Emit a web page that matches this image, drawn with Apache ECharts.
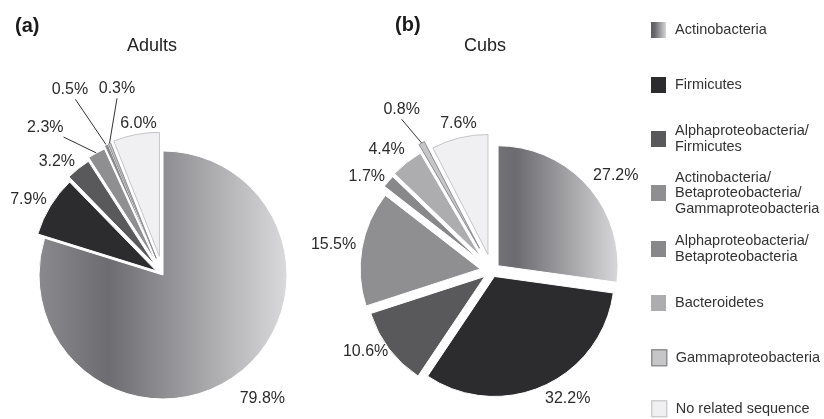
<!DOCTYPE html>
<html>
<head>
<meta charset="utf-8">
<script src="https://cdn.jsdelivr.net/npm/echarts@6/dist/echarts.min.js"></script>
<style>
  html, body { margin: 0; padding: 0; background: #fff; }
  #chart { width: 824px; height: 419px; }
</style>
</head>
<body>
<div id="chart"></div>
<script>
// Phylum groups, in legend order (clockwise from 12 o'clock in each pie)
const categories = [
  'Actinobacteria',
  'Firmicutes',
  'Alphaproteobacteria/\nFirmicutes',
  'Actinobacteria/\nBetaproteobacteria/\nGammaproteobacteria',
  'Alphaproteobacteria/\nBetaproteobacteria',
  'Bacteroidetes',
  'Gammaproteobacteria',
  'No related sequence'
];
// Share of clones (%)
const adultsValues = [79.8, 7.9, 3.2, 2.3, 0.5, 0, 0.3, 6.0];
const cubsValues = [27.2, 32.2, 10.6, 15.5, 1.7, 4.4, 0.8, 7.6];
const panelTitles = ['Adults', 'Cubs'];
const panelTags = ['(a)', '(b)'];

// ---- styling -------------------------------------------------------------
const FONT = "'Liberation Sans', Arial, Helvetica, sans-serif";
const fills = [null, '#2c2b2d', '#59595c', '#8f8f92', '#88888b', '#adadb0', '#c6c6c8', '#f0f0f2'];
const borders = ['#ffffff', '#ffffff', '#ffffff', '#ffffff', '#ffffff', '#ffffff', '#8e8e90', '#c6c6c8'];

function grad(stops) {
  return new echarts.graphic.LinearGradient(0, 0, 1, 0,
    stops.map(s => ({ offset: s[0], color: s[1] })));
}

// how far each slice is pulled out of its pie (px)
const adultsExplode = [0, 8, 12, 15, 18, 0, 18, 19];
const cubsExplode = [8, 6, 9, 12, 17, 18, 26, 17];
// label line [length, length2] used to place each value label
const adultsLabelPos = [[29, -14], [11.5, -6], [9, -2.4], [29, 19], [60, -6], [0, 0], [59, -48], [11.4, -22.6]];
const cubsLabelPos = [[18, -9], [13.5, -4], [5, -3.2], [19, -13], [7, -2], [16, -8], [38, -16.5], [15, -20.6]];
// slices whose label is tied back with a leader line: where it meets the label (0..1 along its bottom)
const adultsLeaders = { 3: 1.0, 4: 0.65, 6: 0.5 };
const cubsLeaders = { 6: 0.5 };

const pies = [
  {
    values: adultsValues, explode: adultsExplode, labelPos: adultsLabelPos, leaders: adultsLeaders,
    center: [163, 275], radius: 124,
    first: grad([[0, '#8a8a8e'], [0.28, '#6c6c71'], [1, '#dadadc']])
  },
  {
    values: cubsValues, explode: cubsExplode, labelPos: cubsLabelPos, leaders: cubsLeaders,
    center: [492, 271], radius: 120,
    first: grad([[0, '#727276'], [0.15, '#6b6b70'], [1, '#d8d8da']])
  }
];

const hidden = { color: 'rgba(0,0,0,0)', borderWidth: 0 };

// One pie series per slice, so every slice can sit at its own offset.
const series = [];
pies.forEach(pie => {
  const total = pie.values.reduce((a, b) => a + b, 0);
  let acc = 0;
  pie.values.forEach((v, k) => {
    const a0 = acc / total * 2 * Math.PI;
    acc += v;
    const a1 = acc / total * 2 * Math.PI;
    if (!v) return;
    const mid = (a0 + a1) / 2;
    const off = pie.explode[k];
    const center = [pie.center[0] + off * Math.sin(mid), pie.center[1] - off * Math.cos(mid)];
    const leaderAt = pie.leaders[k];
    series.push({
      type: 'pie',
      center: center,
      radius: pie.radius,
      startAngle: 90,
      clockwise: true,
      avoidLabelOverlap: false,
      animation: false,
      silent: true,
      emphasis: { disabled: true },
      label: { show: false },
      labelLine: { show: false },
      labelLayout: leaderAt == null ? null : function (params) {
        const pts = params.labelLinePoints;
        if (!pts) return {};
        const r = params.labelRect;
        const end = [r.x + r.width * leaderAt, r.y + r.height + 1.5];
        return { labelLinePoints: [pts[0], end, end] };
      },
      data: pie.values.map((val, i) => {
        if (i !== k) {
          return { name: categories[i], value: val, itemStyle: hidden, label: { show: false }, labelLine: { show: false } };
        }
        return {
          name: categories[i],
          value: val,
          itemStyle: {
            color: i === 0 ? pie.first : fills[i],
            borderColor: borders[i],
            borderWidth: 1
          },
          label: {
            show: true,
            position: 'outside',
            formatter: p => p.value.toFixed(1) + '%',
            color: '#2b2b2b',
            fontSize: 16,
            fontFamily: FONT,
            distanceToLabelLine: 0
          },
          labelLine: {
            show: leaderAt != null,
            length: pie.labelPos[i][0],
            length2: pie.labelPos[i][1],
            lineStyle: { color: '#333', width: 1 }
          }
        };
      })
    });
  });
});

// Legend: one block per group, stacked at an even pitch
const legendCenters = [30, 85, 139, 193, 249, 303, 357, 408];
const LH = 15.5;
const legendIcons = [
  { color: grad([[0, '#5c5c60'], [0.25, '#69696d'], [1, '#d6d6d8']]), borderWidth: 0 },
  { color: fills[1], borderWidth: 0 },
  { color: fills[2], borderWidth: 0 },
  { color: fills[3], borderWidth: 0 },
  { color: fills[4], borderWidth: 0 },
  { color: fills[5], borderWidth: 0 },
  { color: fills[6], borderColor: '#909092', borderWidth: 1.5 },
  { color: fills[7], borderColor: '#cfcfd1', borderWidth: 1.5 }
];
const legend = categories.map((name, i) => {
  const lines = name.split('\n').length;
  return {
    orient: 'vertical',
    left: 651,
    top: legendCenters[i] - Math.max(8, lines * LH / 2),
    padding: 0,
    itemWidth: 15,
    itemHeight: 16,
    icon: 'rect',
    selectedMode: false,
    textStyle: { fontSize: 14.5, fontFamily: FONT, color: '#333', lineHeight: LH, padding: [0, 0, 0, 4] },
    data: [{ name: name, itemStyle: legendIcons[i] }]
  };
});

const graphic = [
  { type: 'text', x: 15, y: 26.5, style: { text: panelTags[0], font: 'bold 20px ' + FONT, fill: '#1a1a1a', align: 'left', verticalAlign: 'middle' } },
  { type: 'text', x: 395, y: 25, style: { text: panelTags[1], font: 'bold 20px ' + FONT, fill: '#1a1a1a', align: 'left', verticalAlign: 'middle' } },
  { type: 'text', x: 152, y: 46, style: { text: panelTitles[0], font: '18px ' + FONT, fill: '#222', align: 'center', verticalAlign: 'middle' } },
  { type: 'text', x: 485, y: 46, style: { text: panelTitles[1], font: '18px ' + FONT, fill: '#222', align: 'center', verticalAlign: 'middle' } }
];

const chart = echarts.init(document.getElementById('chart'), null, { renderer: 'canvas' });
chart.setOption({
  backgroundColor: '#ffffff',
  animation: false,
  legend: legend,
  graphic: graphic,
  series: series
});
</script>
</body>
</html>
